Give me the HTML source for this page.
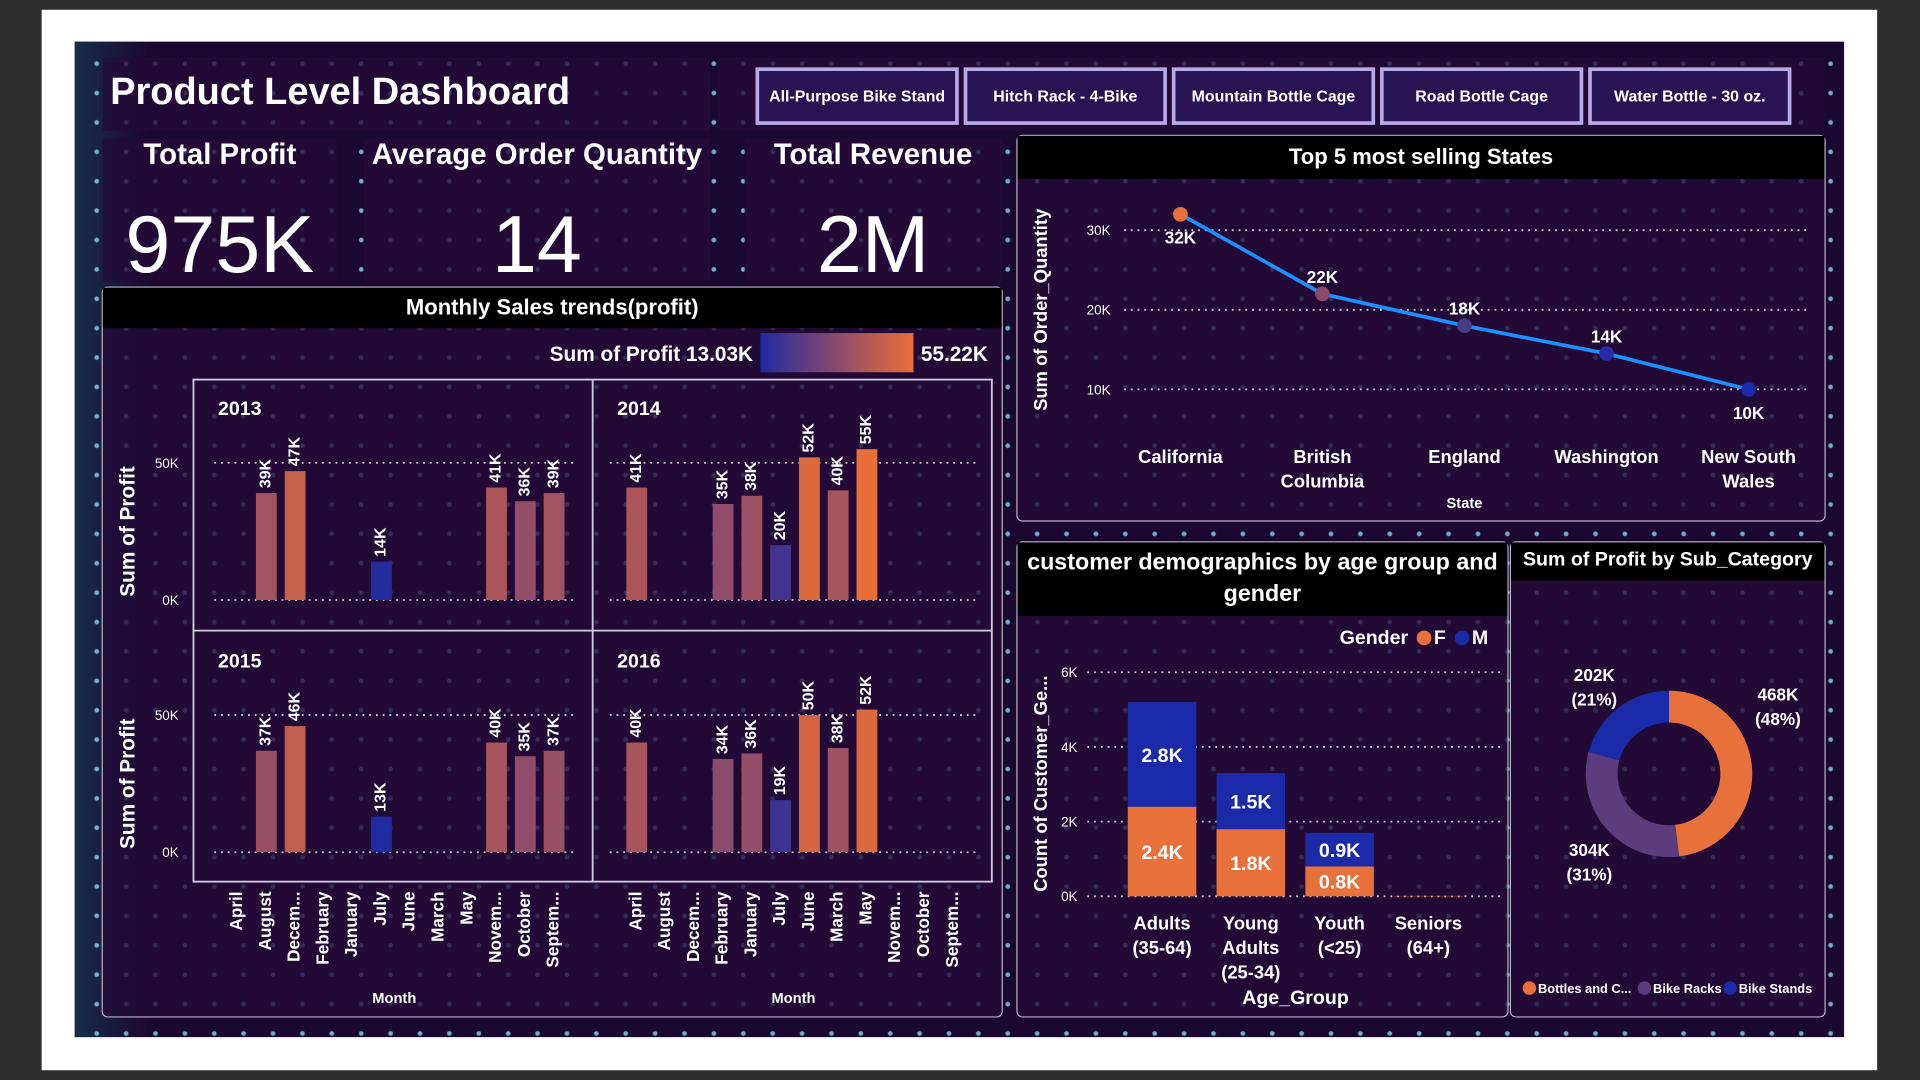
<!DOCTYPE html>
<html><head><meta charset="utf-8">
<style>
html,body{margin:0;padding:0;width:1920px;height:1080px;overflow:hidden;background:#2d2d2d;font-family:"Liberation Sans",sans-serif;}
#wrap{position:absolute;left:0;top:0;width:1568px;height:882px;transform:scale(1.22449);transform-origin:0 0;}
.abs{position:absolute;}
#frame{left:34px;top:8px;width:1499px;height:866px;background:#fff;}
#dash{left:61px;top:34px;width:1445px;height:813px;background-color:#1b0830;
 background-image:radial-gradient(circle,rgba(140,215,240,0.8) 1.5px,transparent 2.3px),linear-gradient(90deg,rgba(20,70,90,0.6),transparent 60px);
 background-size:24px 24px,100% 100%;background-position:6px 6px,0 0;}
.panel{background:rgba(36,10,56,0.78);}
.bord{border:1px solid #b8b0c8;border-radius:5px;box-sizing:border-box;}
.hdr{position:absolute;left:0;right:0;top:0;background:#000;color:#fff;font-weight:bold;text-align:center;}
.btn{top:55px;width:166px;height:47px;box-sizing:border-box;border:3px solid #b9a8e8;background:#2a1352;color:#fff;font-weight:bold;font-size:13px;display:flex;align-items:center;justify-content:center;}
.kt{color:#fff;font-size:24px;font-weight:bold;text-align:center;width:100%;top:0;}
.kv{color:#fff;font-size:66px;text-align:center;width:100%;top:48px;}
svg text{font-family:"Liberation Sans",sans-serif;fill:#fff;}
</style></head><body>
<div id="wrap">
<div class="abs" id="frame"></div>
<div class="abs" id="dash"></div>

<div class="abs panel" style="left:84px;top:47px;width:496px;height:60px;">
 <div class="abs" style="left:6px;top:10px;color:#fff;font-size:31px;font-weight:bold;">Product Level Dashboard</div>
</div>
<div class="abs panel" style="left:587px;top:47px;width:903px;height:60px;"></div>
<div class="abs btn" style="left:617px;">All-Purpose Bike Stand</div>
<div class="abs btn" style="left:787px;">Hitch Rack - 4-Bike</div>
<div class="abs btn" style="left:957px;">Mountain Bottle Cage</div>
<div class="abs btn" style="left:1127px;">Road Bottle Cage</div>
<div class="abs btn" style="left:1297px;">Water Bottle - 30 oz.</div>

<div class="abs panel" style="left:84px;top:113px;width:191px;height:117px;">
 <div class="abs kt">Total Profit</div>
 <div class="abs kv">975K</div></div>
<div class="abs panel" style="left:297px;top:113px;width:283px;height:117px;">
 <div class="abs kt">Average Order Quantity</div>
 <div class="abs kv">14</div></div>
<div class="abs panel" style="left:608px;top:113px;width:210px;height:117px;">
 <div class="abs kt">Total Revenue</div>
 <div class="abs kv">2M</div></div>

<div class="abs panel bord" style="left:83px;top:234px;width:736px;height:597px;">
 <div class="hdr" style="height:33px;line-height:33px;font-size:18px;">Monthly Sales trends(profit)</div></div>
<div class="abs panel bord" style="left:830px;top:110px;width:661px;height:316px;">
 <div class="hdr" style="height:35px;line-height:35px;font-size:18px;">Top 5 most selling States</div></div>
<div class="abs panel bord" style="left:830px;top:442px;width:402px;height:389px;">
 <div class="hdr" style="height:60px;font-size:19px;line-height:26px;padding-top:4px;box-sizing:border-box;">customer demographics by age group and<br>gender</div></div>
<div class="abs panel bord" style="left:1233px;top:442px;width:258px;height:389px;">
 <div class="hdr" style="height:31px;line-height:30px;font-size:16px;">Sum of Profit by Sub_Category</div></div>

<svg class="abs" id="chart" style="left:0;top:0;" width="1568" height="882">
<defs><linearGradient id="lg" x1="0" x2="1"><stop offset="0" stop-color="#1f2aa0"/><stop offset="0.5" stop-color="#8c4b6c"/><stop offset="1" stop-color="#ea6e36"/></linearGradient></defs>
</svg>
</div>
<script>
// ---- Monthly profit data (K) ----
const months = ['April','August','Decem...','February','January','July','June','March','May','Novem...','October','Septem...'];
const years = ['2013','2014','2015','2016'];
const profit2013 = [null,39,47,null,null,14,null,null,null,41,36,39];
const profit2014 = [41,null,null,35,38,20,52,40,55,null,null,null];
const profit2015 = [null,37,46,null,null,13,null,null,null,40,35,37];
const profit2016 = [40,null,null,34,36,19,50,38,52,null,null,null];
const profitTicks = [0,50];
const profitMin = 13.03, profitMax = 55.22;
// ---- Top states ----
const states = [['California'],['British','Columbia'],['England'],['Washington'],['New South','Wales']];
const orderQty = [32,22,18,14.5,10];
const orderLabels = ['32K','22K','18K','14K','10K'];
const stateTicks = [10,20,30];
// ---- Demographics ----
const ageGroups = [['Adults','(35-64)'],['Young','Adults','(25-34)'],['Youth','(<25)'],['Seniors','(64+)']];
const femaleCounts = [2.4,1.8,0.8,0.01];
const maleCounts = [2.8,1.5,0.9,0.01];
const countTicks = [0,2,4,6];
// ---- Sub category ----
const subCats = ['Bottles and C...','Bike Racks','Bike Stands'];
const subProfit = [468,304,202];
const subLabels = ['468K','304K','202K'];

const NS='http://www.w3.org/2000/svg';
const svg=document.getElementById('chart');
function mk(tag,attrs,parent,txt){const e=document.createElementNS(NS,tag);for(const k in attrs)e.setAttribute(k,attrs[k]);if(txt!==undefined)e.textContent=txt;(parent||svg).appendChild(e);return e;}
function lerp(a,b,t){return a.map((v,i)=>Math.round(v+(b[i]-v)*t));}
function colorFor(v){let t=(v-profitMin)/(profitMax-profitMin);t=Math.max(0,Math.min(1,t));const lo=[31,42,160],mid=[140,75,108],hi=[234,110,54];const c=t<0.5?lerp(lo,mid,t*2):lerp(mid,hi,(t-0.5)*2);return 'rgb('+c.join(',')+')';}

let e;
e=mk('text',{x:615,y:295,'text-anchor':'end','font-size':17,'font-weight':'bold'},svg,'Sum of Profit  13.03K');

e=mk('rect',{x:621,y:272,width:125,height:32,fill:'url(#lg)'});

e=mk('text',{x:752,y:295,'font-size':17,'font-weight':'bold'},svg,'55.22K');


e=mk('rect',{x:158,y:310,width:652,height:410,fill:'none',stroke:'#d0cce0','stroke-width':1.5});

mk('line',{x1:484,y1:310,x2:484,y2:720,stroke:'#d0cce0','stroke-width':1.5});
mk('line',{x1:158,y1:515,x2:810,y2:515,stroke:'#d0cce0','stroke-width':1.5});

const series=[profit2013,profit2014,profit2015,profit2016];
const pxPerK=112/50;
series.forEach((data,i)=>{
 const col=i%2,row=Math.floor(i/2);
 const x0=col?520:194, base=row?696:490, step=23.5, gx0=col?498:175, gx1=col?797:470;
 const yr=mk('text',{x:col?504:178,y:row?545:339,'font-size':16,'font-weight':'bold'},svg,years[i]);
 
 profitTicks.forEach(t=>{const y=base-t*pxPerK;
  mk('line',{x1:gx0,y1:y,x2:gx1,y2:y,stroke:'#ccc','stroke-width':1.5,'stroke-dasharray':'1.5 4'});
  if(!col){const tl=mk('text',{x:146,y:y+4,'text-anchor':'end','font-size':11},svg,t+'K');
   }
 });
 if(!col){const yt=mk('text',{x:110,y:base-56,'text-anchor':'middle','font-size':17,'font-weight':'bold',transform:'rotate(-90 110 '+(base-56)+')'},svg,'Sum of Profit');
  }
 data.forEach((v,j)=>{ if(v==null)return;
  const cx=x0+j*step,h=v*pxPerK;
  const b=mk('rect',{x:cx-8.5,y:base-h,width:17,height:h,fill:colorFor(v)});
  
  
  const ly=base-h-4;
  const l=mk('text',{x:cx,y:ly,'font-size':13,'font-weight':'bold','dominant-baseline':'middle',transform:'rotate(-90 '+cx+' '+ly+')'},svg,v+'K');
  
  
 });
});
[194,520].forEach((x0,k)=>{
 months.forEach((m,j)=>{const x=x0+j*23.5;
  const t=mk('text',{x:x,y:728,'text-anchor':'end','font-size':14,'font-weight':'bold','dominant-baseline':'middle',transform:'rotate(-90 '+x+' 728)'},svg,m);
  
  
 });
 const mt=mk('text',{x:k?648:322,y:819,'text-anchor':'middle','font-size':12,'font-weight':'bold'},svg,'Month');
 
});

const sY=v=>383-v*6.5, sX=i=>964+i*116;
stateTicks.forEach(t=>{mk('line',{x1:918,y1:sY(t),x2:1476,y2:sY(t),stroke:'#ccc','stroke-width':1.5,'stroke-dasharray':'1.5 4'});
 const tl=mk('text',{x:907,y:sY(t)+4,'text-anchor':'end','font-size':11},svg,t+'K');
 });
e=mk('text',{x:855,y:253,'text-anchor':'middle','font-size':15,'font-weight':'bold',transform:'rotate(-90 855 253)'},svg,'Sum of Order_Quantity');

e=mk('polyline',{points:orderQty.map((v,i)=>sX(i)+','+sY(v)).join(' '),fill:'none',stroke:'#1e8fff','stroke-width':3});

const dotCols=['#e8703a','#8a4a6a','#4a3a8a','#2a2aa8','#1a2aa8'];
orderQty.forEach((v,i)=>{
 const c=mk('circle',{cx:sX(i),cy:sY(v),r:6,fill:dotCols[i]});
 
 
 const below=(i==0||i==4);
 const l=mk('text',{x:sX(i),y:below?sY(v)+24:sY(v)-9,'text-anchor':'middle','font-size':14,'font-weight':'bold'},svg,orderLabels[i]);
 
 
 states[i].forEach((s,k)=>{const t=mk('text',{x:sX(i),y:378+k*20,'text-anchor':'middle','font-size':15,'font-weight':'bold'},svg,s);
  
  });
});
e=mk('text',{x:1196,y:415,'text-anchor':'middle','font-size':12,'font-weight':'bold'},svg,'State');


const dY=v=>732-v*30.5, dX=i=>949+i*72.5;
countTicks.forEach(t=>{mk('line',{x1:888,y1:dY(t),x2:1226,y2:dY(t),stroke:'#ccc','stroke-width':1.5,'stroke-dasharray':'1.5 4'});
 const tl=mk('text',{x:880,y:dY(t)+4,'text-anchor':'end','font-size':11},svg,t+'K');
 });
e=mk('text',{x:855,y:640,'text-anchor':'middle','font-size':15,'font-weight':'bold',transform:'rotate(-90 855 640)'},svg,'Count of Customer_Ge...');

e=mk('text',{x:1150,y:526,'text-anchor':'end','font-size':16,'font-weight':'bold'},svg,'Gender');

mk('circle',{cx:1163,cy:521,r:6,fill:'#e8703a'});
e=mk('text',{x:1171,y:526,'font-size':16,'font-weight':'bold'},svg,'F');

mk('circle',{cx:1194,cy:521,r:6,fill:'#1a2aa8'});
e=mk('text',{x:1202,y:526,'font-size':16,'font-weight':'bold'},svg,'M');

ageGroups.forEach((g,i)=>{
 const f=femaleCounts[i],m=maleCounts[i],x=dX(i)-28;
 const fb=mk('rect',{x:x,y:dY(f),width:56,height:f*30.5,fill:'#e8703a'});
 
 
 const mb=mk('rect',{x:x,y:dY(f+m),width:56,height:m*30.5,fill:'#1a2aa8'});
 
 
 if(f>0.1){const l=mk('text',{x:dX(i),y:(dY(0)+dY(f))/2+6,'text-anchor':'middle','font-size':16,'font-weight':'bold'},svg,f.toFixed(1)+'K');
  
  
  const l2=mk('text',{x:dX(i),y:(dY(f)+dY(f+m))/2+6,'text-anchor':'middle','font-size':16,'font-weight':'bold'},svg,m.toFixed(1)+'K');
  
  }
 g.forEach((s,k)=>{const t=mk('text',{x:dX(i),y:759+k*20,'text-anchor':'middle','font-size':15,'font-weight':'bold'},svg,s);
  
  });
});
e=mk('text',{x:1058,y:820,'text-anchor':'middle','font-size':16,'font-weight':'bold'},svg,'Age_Group');


const cx=1363,cy=632,R=68,r=42,total=subProfit.reduce((a,b)=>a+b,0);
const subCols=['#e8703a','#5c3c7c','#1a2aa8'];
let a0=-Math.PI/2;
const labelPos=[[1452,572],[1298,699],[1302,556]];
subProfit.forEach((v,i)=>{
 const a1=a0+v/total*2*Math.PI,large=(a1-a0)>Math.PI?1:0;
 const p=(ang,rad)=>(cx+rad*Math.cos(ang)).toFixed(2)+' '+(cy+rad*Math.sin(ang)).toFixed(2);
 const d='M'+p(a0,R)+' A'+R+' '+R+' 0 '+large+' 1 '+p(a1,R)+' L'+p(a1,r)+' A'+r+' '+r+' 0 '+large+' 0 '+p(a0,r)+' Z';
 const s=mk('path',{d:d,fill:subCols[i]});
 
 
 const [lx,ly]=labelPos[i];
 const l=mk('text',{x:lx,y:ly,'text-anchor':'middle','font-size':14,'font-weight':'bold'},svg,subLabels[i]);
 
 
 const l2=mk('text',{x:lx,y:ly+20,'text-anchor':'middle','font-size':14,'font-weight':'bold'},svg,'('+Math.round(v/total*100)+'%)');
 
 
 a0=a1;
});
const legX=[1249,1343,1413];
subCats.forEach((c,i)=>{
 mk('circle',{cx:legX[i],cy:807,r:5.5,fill:subCols[i]});
 const t=mk('text',{x:legX[i]+7,y:811,'font-size':10.5,'font-weight':'bold'},svg,c);
 
 
});
</script>
</body></html>
